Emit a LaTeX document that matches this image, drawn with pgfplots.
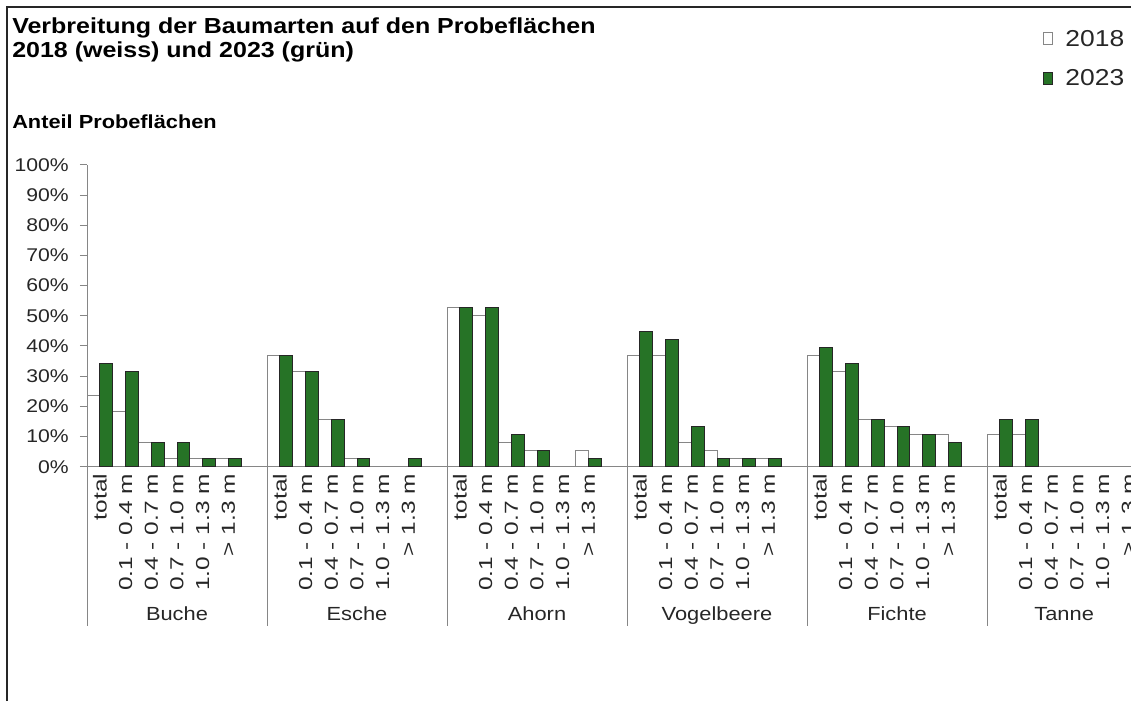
\documentclass[border=0pt]{standalone}
\usepackage{fontspec}
\setmainfont{Liberation Sans}[FakeStretch=1.15]
\newfontfamily\lblfont{Liberation Sans}[FakeStretch=1.3]
\usepackage{pgfplots}
\pgfplotsset{compat=1.18}
\definecolor{bargreen}{RGB}{38,115,38}
\definecolor{axgray}{RGB}{134,134,134}
\newcommand{\fs}[1]{\fontsize{#1}{#1}\selectfont}
\begin{document}
\begin{tikzpicture}
\useasboundingbox (0,0) rectangle (848.25pt,-525.75pt);
\draw[line width=1.5pt, black!85] (5.25pt,-525.75pt) -- (5.25pt,-5.25pt) -- (848.25pt,-5.25pt);
\node[anchor=base west, inner sep=0pt, font=\fs{16.3pt}\bfseries] at (9pt,-25pt) {Verbreitung der Baumarten auf den Probeflächen};
\node[anchor=base west, inner sep=0pt, font=\fs{16.3pt}\bfseries] at (9pt,-43pt) {2018 (weiss) und 2023 (grün)};
\node[anchor=base west, inner sep=0pt, font=\fs{14.2pt}\bfseries] at (9pt,-96.2pt) {Anteil Probeflächen};
\begin{axis}[
  at={(65.25pt,-350pt)}, anchor=south west,
  scale only axis, width=783pt, height=226.3pt,
  xmin=-0.5, xmax=40.1, ymin=0, ymax=100,
  axis x line=bottom, axis y line=left,
  axis line style={draw=axgray, line width=0.75pt, -},
  tick align=outside,
  major tick length=5.25pt,
  ytick={0,10,...,100},
  yticklabels={0\%,10\%,20\%,30\%,40\%,50\%,60\%,70\%,80\%,90\%,100\%},
  ytick style={draw=axgray, line width=0.75pt},
  xtick style={draw=none},
  xtick={0,1,2,3,4,5,7,8,9,10,11,12,14,15,16,17,18,19,21,22,23,24,25,26,28,29,30,31,32,33,35,36,37,38,39,40},
  xticklabels={total,0.1 - 0.4 m,0.4 - 0.7 m,0.7 - 1.0 m,1.0 - 1.3 m,> 1.3 m,
               total,0.1 - 0.4 m,0.4 - 0.7 m,0.7 - 1.0 m,1.0 - 1.3 m,> 1.3 m,
               total,0.1 - 0.4 m,0.4 - 0.7 m,0.7 - 1.0 m,1.0 - 1.3 m,> 1.3 m,
               total,0.1 - 0.4 m,0.4 - 0.7 m,0.7 - 1.0 m,1.0 - 1.3 m,> 1.3 m,
               total,0.1 - 0.4 m,0.4 - 0.7 m,0.7 - 1.0 m,1.0 - 1.3 m,> 1.3 m,
               total,0.1 - 0.4 m,0.4 - 0.7 m,0.7 - 1.0 m,1.0 - 1.3 m,> 1.3 m},
  xticklabel style={rotate=90, anchor=east, font=\lblfont\fs{14.1pt}, inner sep=0pt, text=black!85},
  yticklabel style={anchor=east, font=\fs{13.8pt}, inner sep=0pt, text=black!85, xshift=-8.25pt},
  clip=false,
  legend style={draw=none, fill=none, inner sep=0pt, at={(0.9154,1.4498)}, anchor=north west,
    font=\fs{17.25pt}, row sep=17.5pt, nodes={inner sep=0pt, text height=12.4pt, text depth=0pt, text=black!85}},
  legend cell align=left,
]
% 2018 (white)
\addplot[ybar, bar width=0.5, bar shift=0pt, fill=white, draw=axgray, line width=0.75pt, forget plot] coordinates {
  (-0.25,23.7) (0.75,18.4) (1.75,7.9) (2.75,2.6) (3.75,2.6) (4.75,2.6)
  (6.75,36.8) (7.75,31.6) (8.75,15.8) (9.75,2.6)
  (13.75,52.6) (14.75,50.0) (15.75,7.9) (16.75,5.3) (18.75,5.3)
  (20.75,36.8) (21.75,36.8) (22.75,7.9) (23.75,5.3) (24.75,2.6) (25.75,2.6)
  (27.75,36.8) (28.75,31.6) (29.75,15.8) (30.75,13.2) (31.75,10.5) (32.75,10.5)
  (34.75,10.5) (35.75,10.5)
};
% 2023 (green)
\addplot[ybar, bar width=0.5, bar shift=0pt, fill=bargreen, draw=black!85, line width=0.75pt, forget plot] coordinates {
  (0.25,34.2) (1.25,31.6) (2.25,7.9) (3.25,7.9) (4.25,2.6) (5.25,2.6)
  (7.25,36.8) (8.25,31.6) (9.25,15.8) (10.25,2.6) (12.25,2.6)
  (14.25,52.6) (15.25,52.6) (16.25,10.5) (17.25,5.3) (19.25,2.6)
  (21.25,44.7) (22.25,42.1) (23.25,13.2) (24.25,2.6) (25.25,2.6) (26.25,2.6)
  (28.25,39.5) (29.25,34.2) (30.25,15.8) (31.25,13.2) (32.25,10.5) (33.25,7.9)
  (35.25,15.8) (36.25,15.8)
};
\addlegendimage{legend image code/.code={\draw[fill=white, draw=axgray, line width=0.75pt] (0pt,-5.3pt) rectangle (7pt,4.2pt); \path[draw=none, fill=none] (0pt,0pt) -- (16.5pt,0pt);}}
\addlegendentry{2018}
\addlegendimage{legend image code/.code={\draw[fill=bargreen, draw=black!85, line width=0.75pt] (0pt,-5.3pt) rectangle (7pt,4.2pt); \path[draw=none, fill=none] (0pt,0pt) -- (16.5pt,0pt);}}
\addlegendentry{2023}
\pgfplotsinvokeforeach{-0.5,6.5,13.5,20.5,27.5,34.5}{
  \draw[axgray, line width=0.75pt] (axis cs:#1,0) -- ++(0pt,-119.5pt);
}
\node[anchor=base, font=\fs{14.25pt}, text=black!85, yshift=-115.5pt] at (axis cs:3,0) {Buche};
\node[anchor=base, font=\fs{14.25pt}, text=black!85, yshift=-115.5pt] at (axis cs:10,0) {Esche};
\node[anchor=base, font=\fs{14.25pt}, text=black!85, yshift=-115.5pt] at (axis cs:17,0) {Ahorn};
\node[anchor=base, font=\fs{14.25pt}, text=black!85, yshift=-115.5pt] at (axis cs:24,0) {Vogelbeere};
\node[anchor=base, font=\fs{14.25pt}, text=black!85, yshift=-115.5pt] at (axis cs:31,0) {Fichte};
\node[anchor=base, font=\fs{14.25pt}, text=black!85, yshift=-115.5pt] at (axis cs:37.5,0) {Tanne};
\end{axis}
\end{tikzpicture}
\end{document}
